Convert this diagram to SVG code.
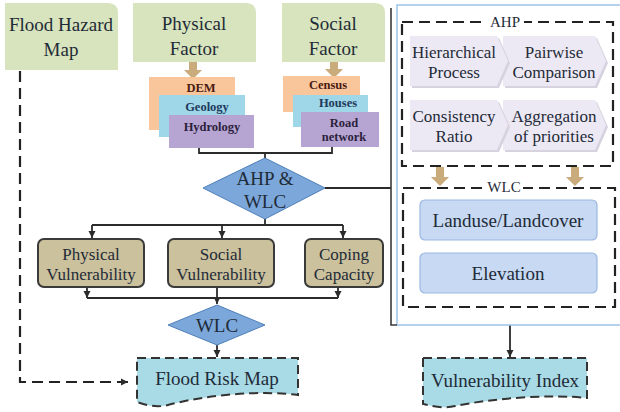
<svg xmlns="http://www.w3.org/2000/svg" width="620" height="412" viewBox="0 0 620 412">
<defs>
<marker id="ah" markerWidth="8" markerHeight="8" refX="7" refY="4" orient="auto" markerUnits="userSpaceOnUse">
<path d="M0,0.5 L7,4 L0,7.5 Z" fill="#2b2b2b"/>
</marker>
<style>
.t{font-family:"Liberation Serif","Times New Roman",serif;fill:#1f2b38;text-anchor:middle}
.big{font-size:19px}
.mid{font-size:17px}
.sm{font-size:12.5px;font-weight:bold}
.green{fill:#d7e4bd}
.ln{fill:none;stroke:#2b2b2b;stroke-width:1.8}
.dash{fill:none;stroke:#222;stroke-width:2.2;stroke-dasharray:11,6}
.tan{fill:#c9ab7c}
.dia{fill:#7ba7da;stroke:#4f7fb8;stroke-width:1}
.vul{fill:#cbc19c;stroke:#3a3a3a;stroke-width:2}
.map{fill:#a9dbe6;stroke:#333;stroke-width:2;stroke-dasharray:9,5}
.chev{fill:#ece9f5}
.chs{fill:#d6d3df}
.wlcb{fill:#c7d9f3;stroke:#9bb8e0;stroke-width:1.2}
</style>
</defs>

<g id="connectors">
<path class="dash" d="M20,71 V382 H128" marker-end="url(#ah)"/>
<path class="ln" d="M199,148 V153 H332 V147"/>
<path class="ln" d="M265,153 V158"/>
<path class="ln" d="M325,188 H391"/>
<path class="ln" d="M265,219 V225"/>
<path class="ln" d="M92,225 H343"/>
<path class="ln" d="M92,225 V238" marker-end="url(#ah)"/>
<path class="ln" d="M222,225 V238" marker-end="url(#ah)"/>
<path class="ln" d="M343,225 V238" marker-end="url(#ah)"/>
<path class="ln" d="M87,287 V298" marker-end="url(#ah)"/>
<path class="ln" d="M338,287 V298" marker-end="url(#ah)"/>
<path class="ln" d="M87,298 H338"/>
<path class="ln" d="M217,287 V304" marker-end="url(#ah)"/>
<path class="ln" d="M217,345 V357" marker-end="url(#ah)"/>
<path class="ln" d="M510,325 V357" marker-end="url(#ah)"/>
</g>

<g id="flood-hazard-map">
<path class="green" d="M5,3 H108 Q118,3 118,13 V70 H5 Z"/>
<text class="t big" x="61" y="31">Flood Hazard</text>
<text class="t big" x="61" y="56">Map</text>
</g>

<g id="physical-factor">
<path class="green" d="M133,3 H246 Q256,3 256,13 V62 H133 Z"/>
<text class="t big" x="194" y="30">Physical</text>
<text class="t big" x="194" y="55">Factor</text>
<path class="tan" d="M189,62 H197 V70 H202 L193,79 L184,70 H189 Z"/>
</g>

<g id="physical-layers">
<rect x="149" y="77" width="86" height="53" fill="#f9c59b"/>
<text class="t sm" x="201" y="92" style="fill:#4a1c12">DEM</text>
<rect x="159" y="95" width="86" height="42" fill="#9fd7e8"/>
<text class="t sm" x="207" y="111" style="fill:#1f3a5c">Geology</text>
<rect x="169" y="115" width="85" height="33" fill="#b6a5d3"/>
<text class="t sm" x="212" y="131" style="fill:#2c1f3c">Hydrology</text>
</g>

<g id="social-factor">
<path class="green" d="M282,3 H375 Q385,3 385,13 V62 H282 Z"/>
<text class="t big" x="333" y="30">Social</text>
<text class="t big" x="333" y="55">Factor</text>
<path class="tan" d="M330,62 H338 V69 H343 L334,78 L325,69 H330 Z"/>
</g>

<g id="social-layers">
<rect x="283" y="76" width="77" height="36" fill="#f9c59b"/>
<text class="t sm" x="328" y="89" style="fill:#4a1c12">Census</text>
<rect x="293" y="95" width="75" height="32" fill="#9fd7e8"/>
<text class="t sm" x="338" y="107" style="fill:#1f3a5c">Houses</text>
<rect x="301" y="112" width="78" height="35" fill="#b6a5d3"/>
<text class="t sm" x="344" y="127" style="fill:#2c1f3c">Road</text>
<text class="t sm" x="344" y="141" style="fill:#2c1f3c">network</text>
</g>

<g id="ahp-wlc-diamond">
<path class="dia" d="M265,158 L325,188 L265,219 L203,188 Z"/>
<text class="t big" x="265" y="185">AHP &amp;</text>
<text class="t big" x="265" y="208">WLC</text>
</g>

<g id="physical-vulnerability">
<rect class="vul" x="38" y="239" width="106" height="48" rx="6"/>
<text class="t mid" x="91" y="260">Physical</text>
<text class="t mid" x="91" y="280">Vulnerability</text>
</g>
<g id="social-vulnerability">
<rect class="vul" x="168" y="239" width="106" height="48" rx="6"/>
<text class="t mid" x="221" y="260">Social</text>
<text class="t mid" x="221" y="280">Vulnerability</text>
</g>
<g id="coping-capacity">
<rect class="vul" x="305" y="239" width="78" height="48" rx="6"/>
<text class="t mid" x="344" y="260">Coping</text>
<text class="t mid" x="344" y="280">Capacity</text>
</g>

<g id="wlc-diamond">
<path class="dia" d="M217,305 L265,325 L217,345 L168,325 Z"/>
<text class="t big" x="217" y="332">WLC</text>
</g>

<g id="flood-risk-map">
<path class="map" d="M137,358 H298 V395 C260,390 205,395 168,405 C156,408 146,405 137,402 Z"/>
<text class="t big" x="217" y="385">Flood Risk Map</text>
</g>

<g id="right-panel">
<rect x="397" y="5" width="230" height="320" fill="none" stroke="#9cc3e6" stroke-width="1.5"/>
<path d="M391,8 V325 H397" fill="none" stroke="#3a3a3a" stroke-width="1.6"/>
</g>

<g id="ahp-box">
<rect class="dash" x="402" y="22" width="211" height="144"/>
<rect x="486" y="14" width="38" height="14" fill="#fff"/>
<text class="t" x="505" y="27" style="font-size:15px">AHP</text>
</g>

<g id="pairwise-comparison">
<path class="chs" d="M505,38 H597 L608,63 L597,88 H505 Z"/>
<path class="chev" d="M503,36 H595 L606,61 L595,86 H503 Z"/>
<text class="t mid" x="554" y="58">Pairwise</text>
<text class="t mid" x="554" y="78">Comparison</text>
</g>
<g id="hierarchical-process">
<path class="chs" d="M412,38 H499 L510,63 L499,88 H412 Z"/>
<path class="chev" d="M410,36 H497 L508,61 L497,86 H410 Z"/>
<text class="t mid" x="454" y="58">Hierarchical</text>
<text class="t mid" x="454" y="78">Process</text>
</g>
<g id="aggregation-of-priorities">
<path class="chs" d="M505,102 H597 L608,127 L597,152 H505 Z"/>
<path class="chev" d="M503,100 H595 L606,125 L595,150 H503 Z"/>
<text class="t mid" x="554" y="122">Aggregation</text>
<text class="t mid" x="554" y="142">of priorities</text>
</g>
<g id="consistency-ratio">
<path class="chs" d="M412,102 H499 L510,127 L499,152 H412 Z"/>
<path class="chev" d="M410,100 H497 L508,125 L497,150 H410 Z"/>
<text class="t mid" x="454" y="122">Consistency</text>
<text class="t mid" x="454" y="142">Ratio</text>
</g>

<g id="ahp-to-wlc-arrows">
<path class="tan" d="M436,167 H444 V177 H449 L440,186 L431,177 H436 Z"/>
<path class="tan" d="M571,167 H579 V177 H584 L575,186 L566,177 H571 Z"/>
</g>

<g id="wlc-box">
<rect class="dash" x="403" y="188" width="212" height="119"/>
<rect x="485" y="180" width="38" height="14" fill="#fff"/>
<text class="t" x="504" y="192" style="font-size:15px">WLC</text>
</g>
<g id="landuse-landcover">
<rect class="wlcb" x="420" y="200" width="177" height="40" rx="5"/>
<text class="t big" x="508" y="227">Landuse/Landcover</text>
</g>
<g id="elevation">
<rect class="wlcb" x="420" y="253" width="177" height="40" rx="5"/>
<text class="t big" x="508" y="280">Elevation</text>
</g>

<g id="vulnerability-index">
<path class="map" d="M423,358 H587 V398 C550,394 495,398 455,406 C442,409 432,406 423,404 Z"/>
<text class="t big" x="505" y="387">Vulnerability Index</text>
</g>
</svg>
